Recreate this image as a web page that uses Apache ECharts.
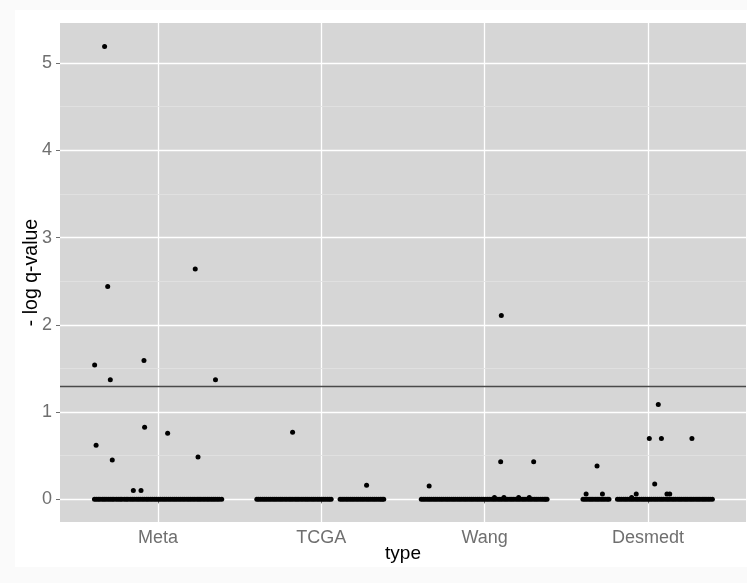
<!DOCTYPE html>
<html>
<head>
<meta charset="utf-8">
<script src="https://cdn.jsdelivr.net/npm/echarts@6/dist/echarts.min.js"></script>
<style>
  html, body { margin: 0; padding: 0; background: #fafafa; }
  #chart { width: 747px; height: 583px; }
</style>
</head>
<body>
<div id="chart"></div>
<script>
// categories on the x axis (positions 1..4)
const categories = ['Meta', 'TCGA', 'Wang', 'Desmedt'];
const yTicks = [0, 1, 2, 3, 4, 5];
const yMinor = [0.5, 1.5, 2.5, 3.5, 4.5];
const threshold = 1.301; // -log10(0.05)

// non-zero points: jitter offset from category centre, and -log q-value
const metaOffsets = [-0.327, 0.228, -0.308, -0.388, -0.086, -0.292, 0.352, -0.082, 0.059, -0.379, -0.28, 0.245, -0.151, -0.104];
const metaValues  = [5.19, 2.64, 2.44, 1.54, 1.59, 1.37, 1.37, 0.826, 0.757, 0.62, 0.45, 0.485, 0.1, 0.1];

const tcgaOffsets = [-0.176, 0.277];
const tcgaValues  = [0.768, 0.16];

const wangOffsets = [-0.34, 0.102, 0.098, 0.30, 0.06, 0.118, 0.208, 0.273];
const wangValues  = [0.153, 2.107, 0.432, 0.432, 0.02, 0.02, 0.02, 0.02];

const desmedtOffsets = [0.063, 0.008, 0.082, 0.269, -0.312, 0.041, -0.379, -0.279, -0.072, 0.116, 0.133, -0.10];
const desmedtValues  = [1.086, 0.696, 0.696, 0.696, 0.382, 0.176, 0.061, 0.061, 0.061, 0.061, 0.061, 0.02];

// points sitting at zero: jitter offsets only
const metaZero = [-0.389, -0.378, -0.366, -0.355, -0.341, -0.33, -0.318, -0.305, -0.293, -0.281, -0.27, -0.256, -0.244, -0.232,
  -0.221, -0.207, -0.195, -0.184, -0.17, -0.158, -0.146, -0.133, -0.121, -0.109, -0.096, -0.084, -0.071, -0.06, -0.047,
  -0.035, -0.022, -0.01, 0.003, 0.015, 0.028, 0.04, 0.052, 0.065, 0.077, 0.09, 0.102, 0.114, 0.127, 0.139, 0.152, 0.164,
  0.177, 0.189, 0.201, 0.214, 0.226, 0.239, 0.251, 0.263, 0.276, 0.288, 0.301, 0.313, 0.326, 0.338, 0.35, 0.363, 0.375, 0.39];
const tcgaZero = [-0.395, -0.384, -0.372, -0.359, -0.347, -0.335, -0.322, -0.31, -0.297, -0.285, -0.273, -0.26, -0.248,
  -0.236, -0.223, -0.211, -0.198, -0.186, -0.174, -0.161, -0.149, -0.137, -0.124, -0.112, -0.099, -0.087, -0.075, -0.062,
  -0.05, -0.038, -0.025, -0.013, 0.0, 0.012, 0.024, 0.037, 0.049, 0.06,
  0.115, 0.127, 0.139, 0.152, 0.164, 0.177, 0.189, 0.201, 0.214, 0.226, 0.239, 0.251, 0.263, 0.276, 0.288, 0.3, 0.313,
  0.325, 0.337, 0.35, 0.362, 0.372, 0.382];
const wangZero = [-0.388, -0.376, -0.364, -0.351, -0.339, -0.327, -0.314, -0.302, -0.29, -0.277, -0.265, -0.253, -0.24,
  -0.228, -0.216, -0.203, -0.191, -0.179, -0.166, -0.154, -0.142, -0.129, -0.117, -0.105, -0.092, -0.08, -0.068, -0.055,
  -0.043, -0.031, -0.018, -0.006, 0.007, 0.019, 0.031, 0.044, 0.056, 0.068, 0.081, 0.093, 0.105, 0.118, 0.13, 0.142,
  0.155, 0.167, 0.179, 0.192, 0.204, 0.216, 0.229, 0.241, 0.253, 0.266, 0.278, 0.29, 0.303, 0.315, 0.327, 0.34, 0.352,
  0.364, 0.373, 0.382];
const desmedtZero = [-0.398, -0.386, -0.374, -0.361, -0.349, -0.337, -0.324, -0.312, -0.3, -0.287, -0.275, -0.263, -0.25, -0.239,
  -0.187, -0.175, -0.163, -0.15, -0.138, -0.126, -0.113, -0.101, -0.089, -0.076, -0.064, -0.052, -0.039, -0.027, -0.015,
  -0.002, 0.01, 0.022, 0.035, 0.047, 0.059, 0.072, 0.084, 0.096, 0.109, 0.121, 0.133, 0.146, 0.158, 0.17, 0.183, 0.195,
  0.207, 0.22, 0.232, 0.244, 0.257, 0.269, 0.281, 0.294, 0.306, 0.318, 0.331, 0.343, 0.355, 0.368, 0.38, 0.394];

function build(pos, offsets, values, zeros) {
  const out = [];
  zeros.forEach(o => out.push([pos + o, 0]));
  offsets.forEach((o, i) => out.push([pos + o, values[i]]));
  return out;
}

const points = []
  .concat(build(1, metaOffsets, metaValues, metaZero))
  .concat(build(2, tcgaOffsets, tcgaValues, tcgaZero))
  .concat(build(3, wangOffsets, wangValues, wangZero))
  .concat(build(4, desmedtOffsets, desmedtValues, desmedtZero));

const tickColor = '#6f6f6f';
const labelFont = 'Liberation Sans, Arial, Helvetica, sans-serif';

const chart = echarts.init(document.getElementById('chart'));
chart.setOption({
  backgroundColor: '#fafafa',
  animation: false,
  graphic: [
    { type: 'rect', z: -10, shape: { x: 15, y: 10, width: 732, height: 557 }, style: { fill: '#ffffff' } }
  ],
  grid: {
    left: 60, right: 1, top: 23, bottom: 61,
    show: true, backgroundColor: '#d6d6d6', borderWidth: 0
  },
  xAxis: {
    type: 'value',
    min: 0.4, max: 4.6,
    name: 'type',
    nameLocation: 'middle',
    nameGap: 22,
    nameMoveOverlap: false,
    nameTextStyle: { color: '#000', fontSize: 19, fontFamily: labelFont, verticalAlign: 'top' },
    axisLine: { show: false },
    axisTick: { show: true, length: 4, customValues: [1, 2, 3, 4], lineStyle: { color: tickColor } },
    axisLabel: {
      customValues: [1, 2, 3, 4],
      margin: 7,
      color: tickColor, fontSize: 18, fontFamily: labelFont,
      formatter: v => categories[Math.round(v) - 1] || ''
    },
    splitLine: { show: true, lineStyle: { color: '#ffffff', width: 1.3 } }
  },
  yAxis: {
    type: 'value',
    min: -0.26, max: 5.46,
    name: '- log q-value',
    nameLocation: 'middle',
    nameGap: 18,
    nameMoveOverlap: false,
    nameTextStyle: { color: '#000', fontSize: 19.5, fontFamily: labelFont },
    axisLine: { show: false },
    axisTick: { show: true, length: 4, customValues: yTicks, lineStyle: { color: tickColor } },
    axisLabel: {
      customValues: yTicks,
      margin: 8,
      color: tickColor, fontSize: 18, fontFamily: labelFont
    },
    splitLine: { show: true, lineStyle: { color: '#ffffff', width: 1.3 } }
  },
  series: [
    {
      type: 'line',
      data: [],
      silent: true,
      z: 1,
      markLine: {
        silent: true,
        z: 1,
        symbol: 'none',
        label: { show: false },
        lineStyle: { color: '#e2e2e2', width: 0.8, type: 'solid' },
        data: yMinor.map(v => ({ yAxis: v }))
      }
    },
    {
      type: 'scatter',
      data: points,
      symbolSize: 5,
      z: 10,
      itemStyle: { color: '#000000', opacity: 1 },
      markLine: {
        silent: true,
        z: 2,
        symbol: 'none',
        label: { show: false },
        lineStyle: { color: '#4a4a4a', width: 1.3, type: 'solid' },
        data: [{ yAxis: threshold }]
      }
    }
  ]
});
</script>
</body>
</html>
